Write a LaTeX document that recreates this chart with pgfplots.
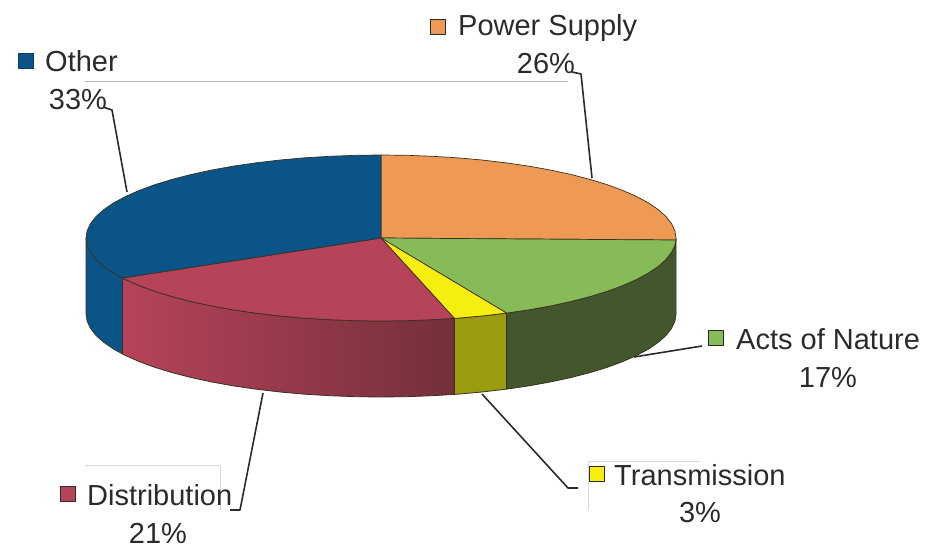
\documentclass[border=0pt]{standalone}
\usepackage{fontspec}
\setmainfont{Liberation Sans}
\usepackage{pgfplots}
\pgfplotsset{compat=1.18}
\definecolor{cblue}{HTML}{0A5488}
\definecolor{corange}{HTML}{EE9A55}
\definecolor{cgreen}{HTML}{86BB57}
\definecolor{cyellow}{HTML}{F5EE10}
\definecolor{cred}{HTML}{B6435A}
\definecolor{credd}{HTML}{74303A}
\definecolor{cgside}{HTML}{42572C}
\definecolor{cyside}{HTML}{9A9C10}
\definecolor{edge}{HTML}{3A3020}
\definecolor{ink}{HTML}{2B2B2B}
\tikzset{lab/.style={font=\fontsize{29}{34}\selectfont, text=ink, inner sep=0pt}}
\begin{document}
\begin{tikzpicture}
\useasboundingbox (0,0) rectangle (933pt,548pt);
\begin{axis}[
  at={(0,0)}, anchor=south west,
  scale only axis, width=933pt, height=548pt,
  xmin=0, xmax=933, ymin=0, ymax=548, y dir=reverse,
  axis lines=none, ticks=none, clip=true,
  every axis plot/.append style={line join=round},
]
% faint scan lines
\addplot[draw=black!30, line width=0.6pt] coordinates {(85,81) (568,81)};
\addplot[draw=black!15, line width=0.6pt] coordinates {(85,465) (220,465) (220,510)};
\addplot[draw=black!15, line width=0.6pt] coordinates {(588,510) (588,461) (700,461)};

% side walls
\addplot[fill=cblue, draw=edge, line width=0.7pt] coordinates {(122.5,278) (113.6,273.1) (103.8,266.4) (96,259.5) (90.5,252.4) (87.1,245.2) (86,238) (86,314) (87.1,321.2) (90.5,328.4) (96,335.5) (103.8,342.4) (113.6,349.1) (122.5,354)} --cycle;
\addplot[left color=cred, middle color=cred!90!credd, right color=credd, draw=edge, line width=0.8pt] coordinates {(454.4,318.4) (432.2,319.7) (406.7,320.7) (381,321) (355.3,320.7) (329.8,319.7) (304.6,318.2) (280.1,316) (256.3,313.2) (233.5,309.9) (211.8,306) (191.4,301.6) (172.4,296.7) (155,291.4) (139.3,285.6) (125.5,279.5) (122.5,278) (122.5,354) (125.5,355.5) (139.3,361.6) (155,367.4) (172.4,372.7) (191.4,377.6) (211.8,382) (233.5,385.9) (256.3,389.2) (280.1,392) (304.6,394.2) (329.8,395.7) (355.3,396.7) (381,397) (406.7,396.7) (432.2,395.7) (454.4,394.4)} --cycle;
\addplot[fill=cyside, draw=edge, line width=0.8pt] coordinates {(506.6,313.1) (481.9,316) (457.4,318.2) (454.4,318.4) (454.4,394.4) (457.4,394.2) (481.9,392) (506.6,389.1)} --cycle;
\addplot[fill=cgside, draw=edge, line width=0.8pt] coordinates {(676,238) (676,240) (674.9,245.2) (671.5,252.4) (666,259.5) (658.2,266.4) (648.4,273.1) (636.5,279.5) (622.7,285.6) (607,291.4) (589.6,296.7) (570.6,301.6) (550.2,306) (528.5,309.9) (506.6,313.1) (506.6,389.1) (528.5,385.9) (550.2,382) (570.6,377.6) (589.6,372.7) (607,367.4) (622.7,361.6) (636.5,355.5) (648.4,349.1) (658.2,342.4) (666,335.5) (671.5,328.4) (674.9,321.2) (676,314)} --cycle;

% top wedges
\addplot[fill=corange, draw=edge, line width=0.7pt] coordinates {(381,238) (381,155) (406.7,155.3) (432.2,156.3) (457.4,157.8) (481.9,160) (505.7,162.8) (528.5,166.1) (550.2,170) (570.6,174.4) (589.6,179.3) (607,184.6) (622.7,190.4) (636.5,196.5) (648.4,202.9) (658.2,209.6) (666,216.5) (671.5,223.6) (674.9,230.8) (676,238) (676,240)} --cycle;
\addplot[fill=cgreen, draw=edge, line width=0.7pt] coordinates {(381,238) (676,240) (674.9,245.2) (671.5,252.4) (666,259.5) (658.2,266.4) (648.4,273.1) (636.5,279.5) (622.7,285.6) (607,291.4) (589.6,296.7) (570.6,301.6) (550.2,306) (528.5,309.9) (506.6,313.1)} --cycle;
\addplot[fill=cyellow, draw=edge, line width=0.7pt] coordinates {(381,238) (506.6,313.1) (481.9,316) (457.4,318.2) (454.4,318.4)} --cycle;
\addplot[fill=cred, draw=edge, line width=0.7pt] coordinates {(381,238) (454.4,318.4) (432.2,319.7) (406.7,320.7) (381,321) (355.3,320.7) (329.8,319.7) (304.6,318.2) (280.1,316) (256.3,313.2) (233.5,309.9) (211.8,306) (191.4,301.6) (172.4,296.7) (155,291.4) (139.3,285.6) (125.5,279.5) (122.5,278)} --cycle;
\addplot[fill=cblue, draw=edge, line width=0.7pt] coordinates {(381,238) (122.5,278) (113.6,273.1) (103.8,266.4) (96,259.5) (90.5,252.4) (87.1,245.2) (86,238) (87.1,230.8) (90.5,223.6) (96,216.5) (103.8,209.6) (113.6,202.9) (125.5,196.5) (139.3,190.4) (155,184.6) (172.4,179.3) (191.4,174.4) (211.8,170) (233.5,166.1) (256.3,162.8) (280.1,160) (304.6,157.8) (329.8,156.3) (355.3,155.3) (381,155)} --cycle;

% leader lines
\addplot[draw=ink, line width=1.6pt] coordinates {(103,107) (112,110) (127,192)};
\addplot[draw=ink, line width=1.6pt] coordinates {(572,72) (581,74) (592,178)};
\addplot[draw=ink, line width=1.6pt] coordinates {(634,357) (702,346)};
\addplot[draw=ink, line width=1.6pt] coordinates {(482,394) (568,488) (578,488)};
\addplot[draw=ink, line width=1.6pt] coordinates {(263,393) (240,510) (230,510)};

% legend keys
\addplot[only marks, mark=square*, mark size=7.5pt, mark options={fill=corange, draw=ink, line width=1pt}] coordinates {(438,27)};
\addplot[only marks, mark=square*, mark size=7.5pt, mark options={fill=cblue, draw=cblue!70!black, line width=1pt}] coordinates {(25.5,61)};
\addplot[only marks, mark=square*, mark size=7.5pt, mark options={fill=cgreen, draw=ink, line width=1pt}] coordinates {(716,338)};
\addplot[only marks, mark=square*, mark size=7.5pt, mark options={fill=cyellow, draw=ink, line width=1.3pt}] coordinates {(597,474)};
\addplot[only marks, mark=square*, mark size=7.5pt, mark options={fill=cred, draw=ink, line width=1pt}] coordinates {(67.5,494)};

% labels
\node[lab, anchor=base west] at (axis cs:458,36) {Power Supply};
\node[lab, anchor=base] at (axis cs:546,74) {26\%};
\node[lab, anchor=base west] at (axis cs:45,72) {Other};
\node[lab, anchor=base] at (axis cs:78,110) {33\%};
\node[lab, anchor=base west] at (axis cs:736,349) {Acts of Nature};
\node[lab, anchor=base] at (axis cs:828,387) {17\%};
\node[lab, anchor=base west] at (axis cs:614,485) {Transmission};
\node[lab, anchor=base] at (axis cs:700,522) {3\%};
\node[lab, anchor=base west] at (axis cs:87,505) {Distribution};
\node[lab, anchor=base] at (axis cs:158,543) {21\%};
\end{axis}
\end{tikzpicture}
\end{document}
